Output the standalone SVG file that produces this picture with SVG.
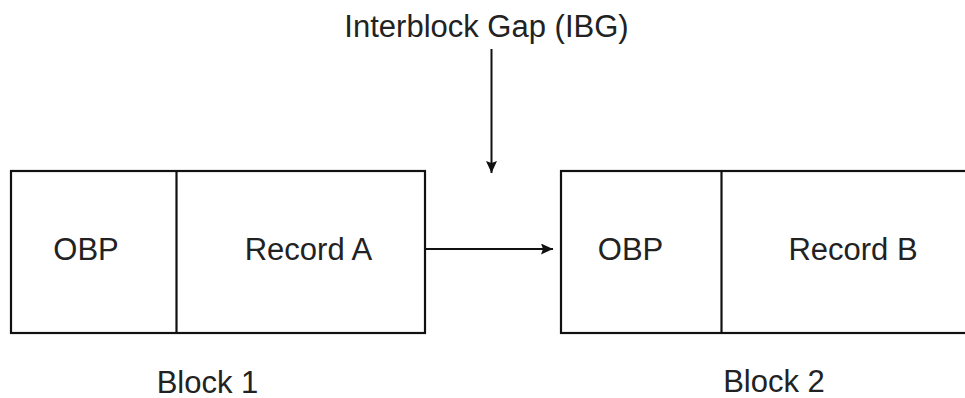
<svg xmlns="http://www.w3.org/2000/svg" width="965" height="398" viewBox="0 0 965 398">
  <style>
    .box { fill: #ffffff; stroke: #111111; stroke-width: 2.2; }
    .div { stroke: #111111; stroke-width: 2.2; }
    .lbl { font-family: "Liberation Sans", Arial, sans-serif; font-size: 31px; fill: #222222; text-anchor: middle; }
    .conn { stroke: #111111; stroke-width: 2; fill: none; }
  </style>
  <defs>
    <marker id="arr" viewBox="0 0 12 11" refX="12" refY="5.5" markerWidth="12" markerHeight="11" markerUnits="userSpaceOnUse" orient="auto">
      <path d="M0,0 L2,5.5 L0,11 L12,5.5 Z" fill="#111111"/>
    </marker>
  </defs>
  <rect width="965" height="398" fill="#ffffff"/>

  <g id="ibg-label">
    <text class="lbl" x="486.5" y="37">Interblock Gap (IBG)</text>
  </g>

  <g id="block1">
    <rect class="box" x="11" y="171" width="414" height="162"/>
    <line class="div" x1="176.5" y1="171" x2="176.5" y2="333"/>
    <text class="lbl" x="86" y="260">OBP</text>
    <text class="lbl" x="308.5" y="260">Record A</text>
    <text class="lbl" x="207.5" y="392.5">Block 1</text>
  </g>

  <g id="block2">
    <rect class="box" x="561" y="171" width="420" height="162"/>
    <line class="div" x1="721.5" y1="171" x2="721.5" y2="333"/>
    <text class="lbl" x="630.5" y="260">OBP</text>
    <text class="lbl" x="853" y="260">Record B</text>
    <text class="lbl" x="774" y="392">Block 2</text>
  </g>

  <g id="connectors">
    <line class="conn" x1="491.5" y1="49" x2="491.5" y2="173" marker-end="url(#arr)"/>
    <line class="conn" x1="425" y1="249" x2="553" y2="249" marker-end="url(#arr)"/>
  </g>
</svg>
